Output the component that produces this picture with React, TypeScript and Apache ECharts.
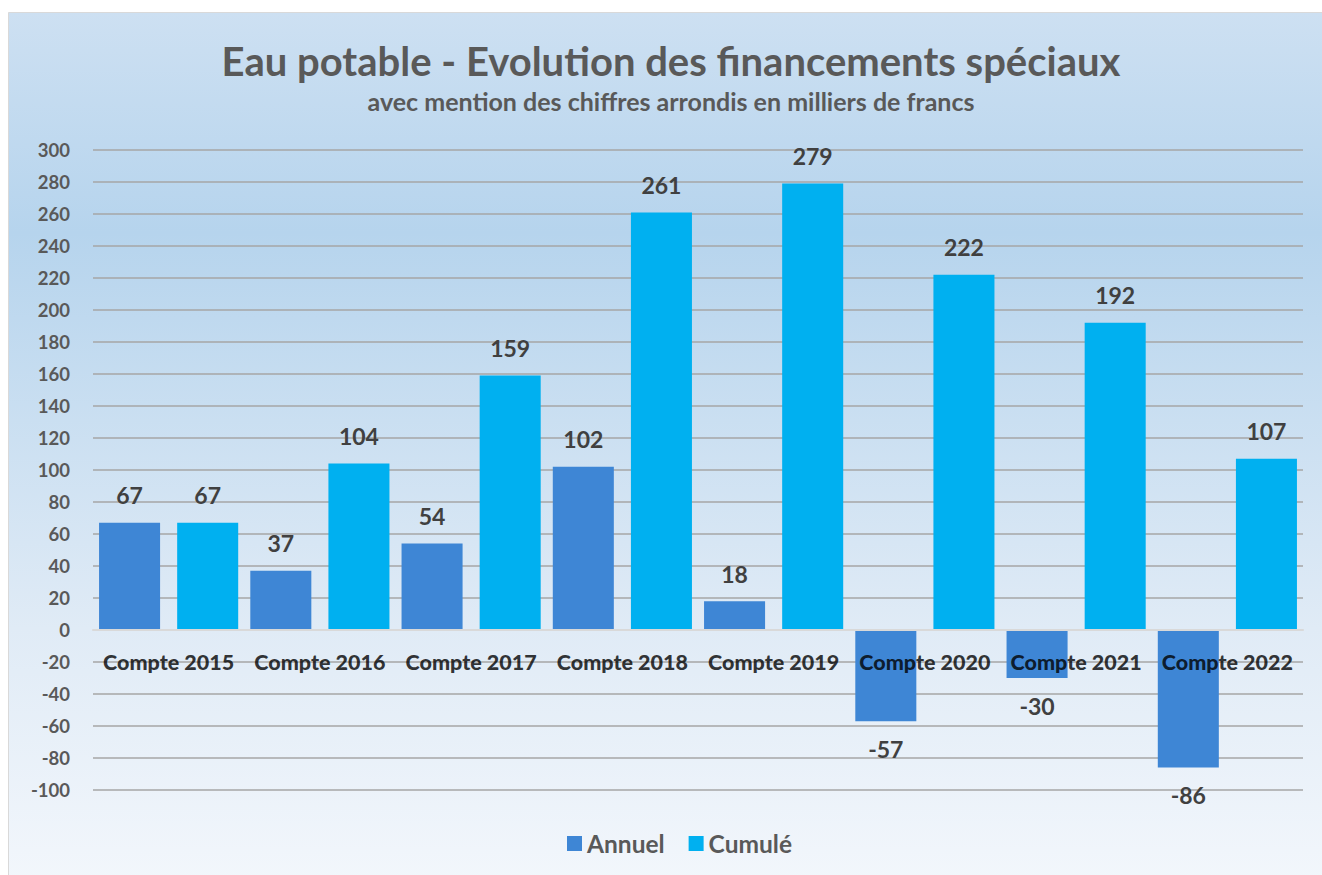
import React, { useEffect, useRef } from "react";
import * as echarts from "echarts";

const categories = [
  "Compte 2015",
  "Compte 2016",
  "Compte 2017",
  "Compte 2018",
  "Compte 2019",
  "Compte 2020",
  "Compte 2021",
  "Compte 2022",
];
const annuel = [67, 37, 54, 102, 18, -57, -30, -86];
const cumule = [67, 104, 159, 261, 279, 222, 192, 107];
const titleText = "Eau potable - Evolution des financements spéciaux";
const subtitleText = "avec mention des chiffres arrondis en milliers de francs";

const FONT = "Lato, 'Noto Sans', sans-serif";

export default function App() {
  const ref = useRef<HTMLDivElement>(null);
  useEffect(() => {
    if (!ref.current) return;
    const chart = echarts.init(ref.current, undefined, { renderer: "svg" });
    const mkData = (arr: number[]) =>
      arr.map((v) => ({
        value: v,
        label: { position: v < 0 ? "bottom" : "top" },
      }));
    const barLabel = {
      show: true,
      distance: 16,
      fontFamily: FONT,
      fontWeight: "bold",
      fontSize: 23,
      color: "#404040",
    };
    chart.setOption({
      animation: false,
      backgroundColor: "#ffffff",
      textStyle: { fontFamily: FONT },
      graphic: [
        {
          type: "rect",
          z: -10,
          silent: true,
          shape: { x: 8.5, y: 12.5, width: 1330, height: 880 },
          style: {
            stroke: "#D9D9D9",
            lineWidth: 1,
            fill: new echarts.graphic.LinearGradient(0, 0, 0, 1, [
              { offset: 0, color: "#CDE0F2" },
              { offset: 0.25, color: "#B6D4ED" },
              { offset: 0.7, color: "#E0EBF6" },
              { offset: 1, color: "#F3F7FC" },
            ]),
          },
        },
        {
          type: "text",
          x: 671,
          y: 61,
          style: {
            text: titleText,
            textAlign: "center",
            textVerticalAlign: "middle",
            fontFamily: FONT,
            fontWeight: "bold",
            fontSize: 40,
            fill: "#595959",
          },
        },
        {
          type: "text",
          x: 671,
          y: 101,
          style: {
            text: subtitleText,
            textAlign: "center",
            textVerticalAlign: "middle",
            fontFamily: FONT,
            fontWeight: "bold",
            fontSize: 25,
            fill: "#595959",
          },
        },
      ],
      legend: {
        left: 562,
        top: 826,
        itemWidth: 15,
        itemHeight: 15,
        itemGap: 24,
        icon: "rect",
        textStyle: {
          fontFamily: FONT,
          fontWeight: "bold",
          fontSize: 24.5,
          color: "#595959",
        },
        data: ["Annuel", "Cumulé"],
      },
      grid: { left: 93, right: 19, top: 150, bottom: 85, containLabel: false },
      xAxis: {
        type: "category",
        data: categories,
        z: 10,
        axisLine: { onZero: true, lineStyle: { color: "#D9D9D9", width: 2 } },
        axisTick: { show: false },
        axisLabel: { show: false },
      },
      yAxis: {
        type: "value",
        min: -100,
        max: 300,
        interval: 20,
        axisLine: { show: false },
        axisTick: { show: false },
        splitLine: { lineStyle: { color: "#A6A6A6", width: 1.5 } },
        axisLabel: {
          margin: 23,
          fontFamily: FONT,
          fontWeight: "bold",
          fontSize: 18.5,
          color: "#595959",
        },
      },
      series: [
        {
          name: "Annuel",
          type: "bar",
          data: mkData(annuel),
          barGap: "28%",
          barCategoryGap: "8%",
          itemStyle: { color: "#3E86D5" },
          label: barLabel,
        },
        {
          name: "Cumulé",
          type: "bar",
          data: mkData(cumule),
          barGap: "28%",
          barCategoryGap: "8%",
          itemStyle: { color: "#00B0F0" },
          label: barLabel,
        },
        {
          name: "categoryLabels",
          type: "scatter",
          z: 20,
          silent: true,
          symbolSize: 1,
          itemStyle: { color: "rgba(0,0,0,0)" },
          data: categories.map((c) => [c, 0]),
          label: {
            show: true,
            position: "bottom",
            distance: 20,
            formatter: (p: any) => p.name || p.value[0],
            fontFamily: FONT,
            fontWeight: 900,
            fontSize: 21.5,
            color: "#000000",
          },
        },
      ],
    });
    return () => chart.dispose();
  }, []);
  return (
    <div
      ref={ref}
      style={{ position: "absolute", left: 0, top: 0, width: 1322, height: 875 }}
    />
  );
}
